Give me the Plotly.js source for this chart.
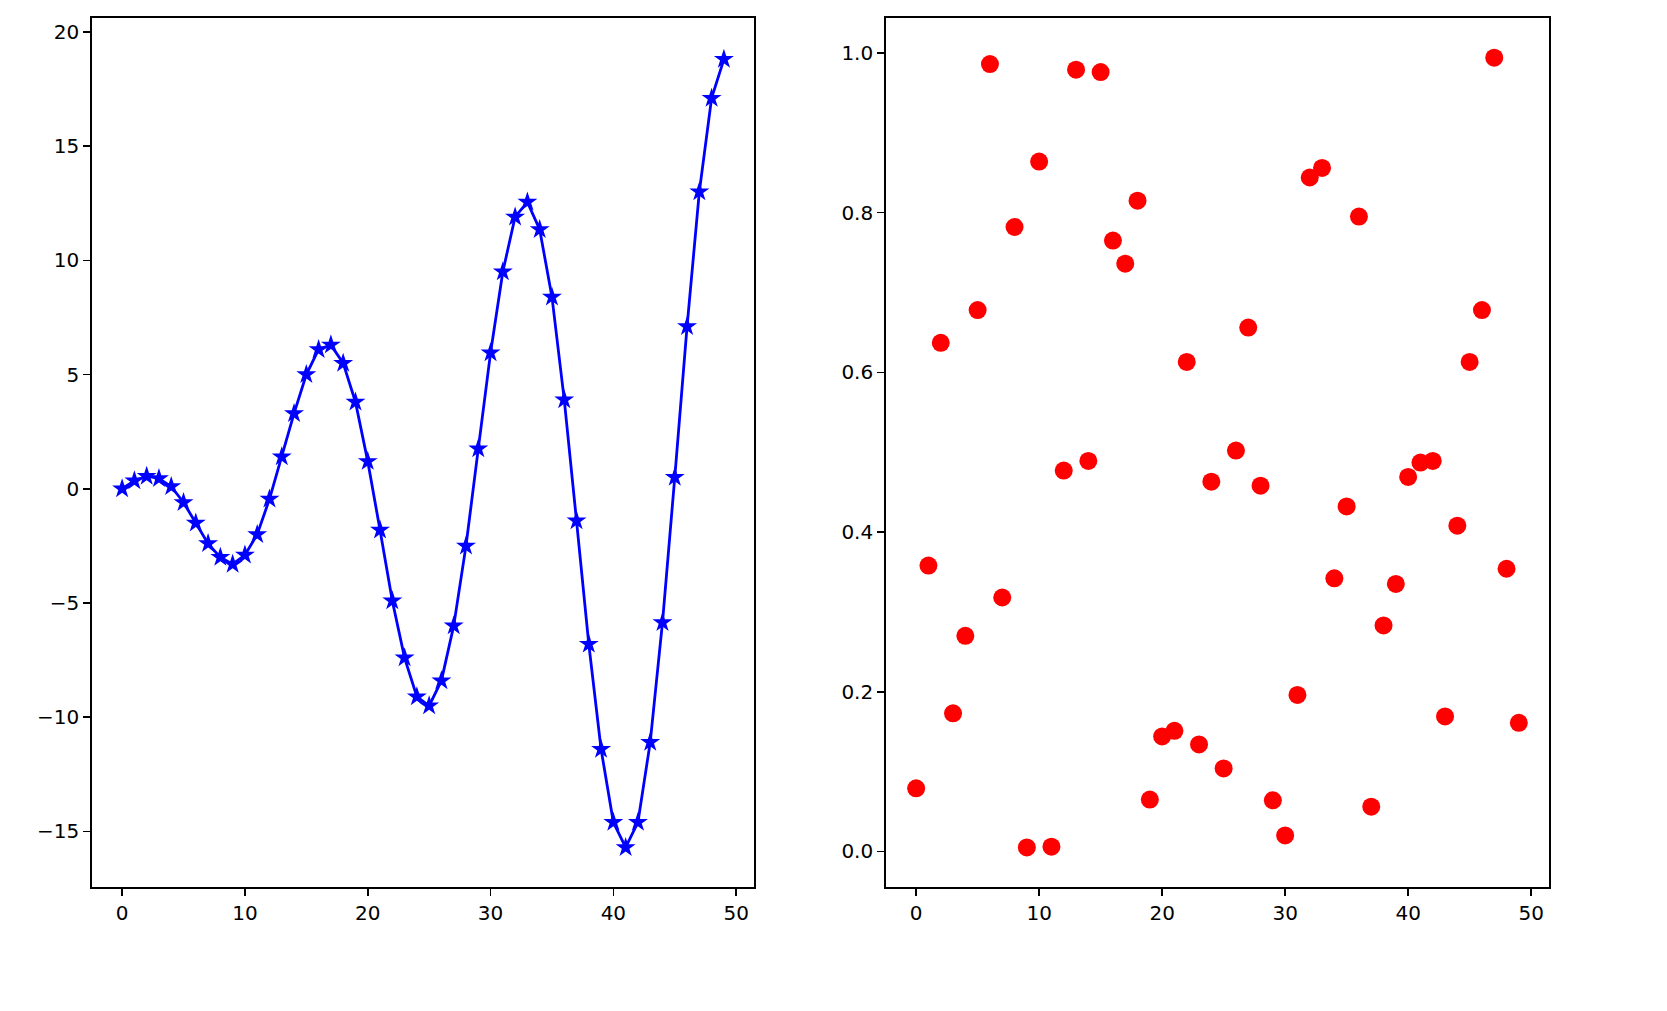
<!DOCTYPE html>
<html>
<head>
<meta charset="utf-8">
<script src="https://cdn.plot.ly/plotly-3.0.1.min.js"></script>
<style>html,body{margin:0;padding:0;background:#fff;}#chart{width:1667px;height:1011px;}</style>
</head>
<body>
<div id="chart"></div>
<script>
const xIndex = [0,1,2,3,4,5,6,7,8,9,10,11,12,13,14,15,16,17,18,19,20,21,22,23,24,25,26,27,28,29,30,31,32,33,34,35,36,37,38,39,40,41,42,43,44,45,46,47,48,49];
const waveValues = [0,0.35,0.55,0.45,0.1,-0.6,-1.5,-2.4,-3.0,-3.3,-2.9,-2.0,-0.45,1.4,3.3,5.0,6.1,6.3,5.5,3.8,1.2,-1.8,-4.9,-7.4,-9.1,-9.5,-8.4,-6.0,-2.5,1.75,5.95,9.5,11.9,12.55,11.35,8.4,3.9,-1.4,-6.8,-11.4,-14.6,-15.7,-14.6,-11.1,-5.85,0.5,7.1,13.0,17.1,18.8];
const scatterValues = [0.079,0.358,0.637,0.173,0.270,0.678,0.986,0.318,0.782,0.005,0.864,0.006,0.477,0.979,0.489,0.976,0.765,0.736,0.815,0.065,0.144,0.151,0.613,0.134,0.463,0.104,0.502,0.656,0.458,0.064,0.020,0.196,0.844,0.856,0.342,0.432,0.795,0.056,0.283,0.335,0.469,0.487,0.489,0.169,0.408,0.613,0.678,0.994,0.354,0.161];
const xTicks = [0,10,20,30,40,50];
const leftYTicks = [-15,-10,-5,0,5,10,15,20];
const leftYLabels = ['\u221215','\u221210','\u22125','0','5','10','15','20'];
const rightYTicks = [0,0.2,0.4,0.6,0.8,1.0];
const rightYLabels = ['0.0','0.2','0.4','0.6','0.8','1.0'];

const traces = [
  {x: xIndex, y: waveValues, type: 'scatter', mode: 'lines+markers', xaxis: 'x', yaxis: 'y',
   line: {color: '#0000ff', width: 2.8}, marker: {symbol: 'star', size: 15, color: '#0000ff'}},
  {x: xIndex, y: scatterValues, type: 'scatter', mode: 'markers', xaxis: 'x2', yaxis: 'y2',
   marker: {symbol: 'circle', size: 18, color: '#ff0000'}}
];

const axBase = {showgrid: false, zeroline: false, showline: true, mirror: true, linecolor: '#000', linewidth: 1.8,
  ticks: 'outside', ticklen: 7, tickwidth: 1.6, tickcolor: '#000', tickfont: {family: 'DejaVu Sans', size: 20, color: '#000'}};

const layout = {
  width: 1667, height: 1011, margin: {l: 0, r: 0, t: 0, b: 0},
  paper_bgcolor: '#fff', plot_bgcolor: '#fff', showlegend: false,
  xaxis: Object.assign({}, axBase, {domain: [0.0552, 0.4523], range: [-2.45, 51.45], tickvals: xTicks, anchor: 'y'}),
  yaxis: Object.assign({}, axBase, {domain: [0.1227, 0.982], range: [-17.43, 20.6], tickvals: leftYTicks, ticktext: leftYLabels, anchor: 'x'}),
  xaxis2: Object.assign({}, axBase, {domain: [0.5315, 0.9292], range: [-2.45, 51.45], tickvals: xTicks, anchor: 'y2'}),
  yaxis2: Object.assign({}, axBase, {domain: [0.1227, 0.982], range: [-0.0445, 1.0435], tickvals: rightYTicks, ticktext: rightYLabels, anchor: 'x2'})
};

Plotly.newPlot('chart', traces, layout, {displayModeBar: false, staticPlot: true});
</script>
</body>
</html>
